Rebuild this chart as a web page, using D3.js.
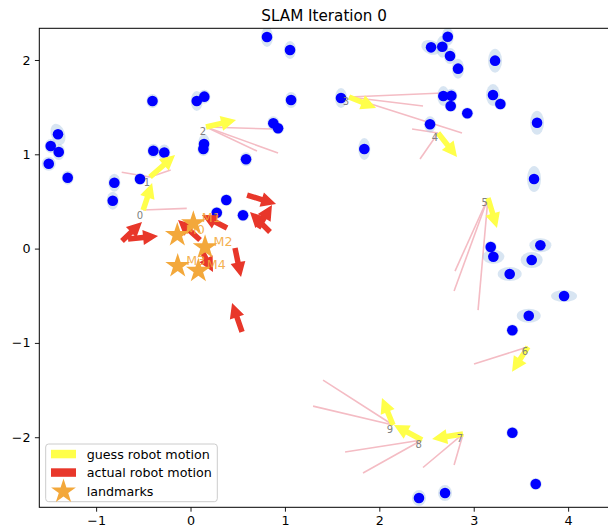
<!DOCTYPE html>
<html>
<head>
<meta charset="utf-8">
<script src="https://cdn.jsdelivr.net/npm/d3@7"></script>
<style>
  html, body { margin: 0; padding: 0; background: #fff; }
  svg { display: block; font-family: "DejaVu Sans", sans-serif; }
</style>
</head>
<body>
<svg id="chart" width="608" height="530"></svg>
<script>
// Estimated map features: [x, y, semi-axis x, semi-axis y, tilt in degrees]
const mapPoints = [
  [0.810, 2.244, 0.064, 0.106, 0], [1.054, 2.106, 0.064, 0.095, 0],
  [2.725, 2.247, 0.064, 0.095, 0], [2.548, 2.134, 0.106, 0.074, -20],
  [2.667, 2.141, 0.064, 0.117, 0], [2.749, 2.042, 0.064, 0.085, 0],
  [2.834, 1.908, 0.064, 0.106, 0], [3.226, 1.993, 0.074, 0.127, 0],
  [2.678, 1.618, 0.064, 0.106, 0], [2.763, 1.621, 0.064, 0.074, 0],
  [2.756, 1.512, 0.064, 0.064, 0], [2.932, 1.435, 0.064, 0.064, 0],
  [3.204, 1.629, 0.074, 0.117, 0], [3.282, 1.533, 0.064, 0.064, 0],
  [2.537, 1.318, 0.064, 0.085, 0], [3.671, 1.335, 0.074, 0.127, 0],
  [1.594, 1.597, 0.064, 0.106, 0], [1.841, 1.056, 0.064, 0.117, 0],
  [1.065, 1.576, 0.064, 0.085, 0], [0.877, 1.329, 0.064, 0.074, 0],
  [0.927, 1.276, 0.064, 0.064, 0], [0.066, 1.565, 0.064, 0.106, 0],
  [0.146, 1.611, 0.064, 0.074, 0], [-0.403, 1.565, 0.064, 0.074, 0],
  [0.143, 1.109, 0.064, 0.106, 0], [0.136, 1.056, 0.064, 0.074, 0],
  [0.588, 0.947, 0.064, 0.074, 0], [-0.394, 1.038, 0.064, 0.074, 0],
  [-0.278, 1.019, 0.064, 0.085, 0], [-1.404, 1.212, 0.074, 0.117, 20],
  [-1.481, 1.088, 0.064, 0.074, 0], [-1.396, 1.024, 0.064, 0.085, 0],
  [-1.502, 0.900, 0.074, 0.074, 0], [-1.301, 0.752, 0.064, 0.074, 0],
  [-0.807, 0.699, 0.064, 0.095, 0], [-0.824, 0.508, 0.064, 0.095, 0],
  [-0.535, 0.738, 0.064, 0.064, 0], [0.379, 0.515, 0.064, 0.064, 0],
  [0.278, 0.381, 0.064, 0.064, 0], [0.556, 0.353, 0.064, 0.064, 0],
  [3.639, 0.738, 0.074, 0.138, 0], [3.180, 0.017, 0.064, 0.064, 0],
  [3.208, -0.086, 0.117, 0.074, 0], [3.706, 0.035, 0.117, 0.074, 0],
  [3.614, -0.121, 0.117, 0.085, 0], [3.381, -0.269, 0.127, 0.074, 0],
  [3.957, -0.503, 0.138, 0.064, 0], [3.583, -0.712, 0.127, 0.074, 0],
  [3.409, -0.866, 0.064, 0.064, 0], [3.409, -1.952, 0.064, 0.064, 0],
  [2.420, -2.645, 0.074, 0.085, 0], [2.696, -2.592, 0.074, 0.085, 0],
  [3.657, -2.496, 0.064, 0.064, 0]
];

// Robot poses along the trajectory
const poseX = [-0.502, -0.429, 0.164, 1.679, 2.622, 3.151, 3.575, 2.887, 2.452, 2.145];
const poseY = [0.409, 0.759, 1.290, 1.608, 1.226, 0.537, -1.042, -1.965, -2.029, -1.870];

// Guessed motion at each pose (dx, dy)
const guessDX = [0.095, 0.265, 0.318, 0.286, 0.201, 0.095, -0.169, -0.328, -0.297, -0.117];
const guessDY = [0.286, 0.233, 0.074, -0.117, -0.255, -0.318, -0.265, -0.053, 0.159, 0.286];

// Actual motion: start point and (dx, dy)
const actualX = [-0.726, -0.662, 0.101, 0.387, 0.842, 0.599, 0.715, 0.132, 0.471, 0.546];
const actualY = [0.081, 0.102, 0.091, 0.218, 0.176, 0.568, 0.218, -0.047, 0.006, -0.884];
const actualDX = [0.212, 0.318, -0.233, -0.265, -0.212, 0.307, 0.148, 0.106, 0.064, -0.106];
const actualDY = [0.201, 0.032, 0.212, 0.138, 0.212, -0.095, 0.244, -0.201, -0.308, 0.308];

// Measurements: pose index and observed point
const measPose = [0, 1, 1, 2, 2, 2, 3, 3, 3, 4, 4, 5, 5, 5, 6, 7, 7, 8, 8, 9, 9];
const measX = [-0.040, -0.729, -0.210, 0.874, 0.704, 0.927, 2.674, 2.463, 2.876, 2.347, 2.431,
               2.802, 2.792, 3.046, 3.003, 2.463, 2.792, 1.637, 1.827, 1.404, 1.298];
const measY = [0.427, 0.809, 0.834, 1.268, 1.034, 1.014, 1.650, 1.512, 1.226, 1.268, 0.950,
               -0.238, -0.450, -0.653, -1.224, -2.321, -2.294, -2.157, -2.379, -1.394, -1.670];

// Landmarks
const landmarkNames = ["M0", "M1", "M2", "M3", "M4"];
const landmarkX = [-0.140, 0.030, 0.154, -0.136, 0.083];
const landmarkY = [0.144, 0.268, 0.014, -0.185, -0.234];

const xTicks = [-1, 0, 1, 2, 3, 4];
const yTicks = [-2, -1, 0, 1, 2];
const legendLabels = ["guess robot motion", "actual robot motion", "landmarks"];

const COLORS = {
  guess: "#ffff4a",
  actual: "#e8372a",
  landmark: "#f3a83b",
  meas: "#f4bcc4",
  point: "#0000ff",
  ellipse: "#a9c6e3"
};

const svg = d3.select("#chart");
const plot = { left: 39.3, right: 609, top: 28.3, bottom: 507.3 };

const x = d3.scaleLinear().domain([-1.602, 4.433]).range([plot.left, plot.right]);
const y = d3.scaleLinear().domain([-2.743, 2.336]).range([plot.bottom, plot.top]);

svg.append("defs").append("clipPath").attr("id", "plotClip")
  .append("rect")
  .attr("x", plot.left).attr("y", plot.top)
  .attr("width", plot.right - plot.left).attr("height", plot.bottom - plot.top);

const g = svg.append("g").attr("clip-path", "url(#plotClip)");

// Measurement rays
g.append("g").selectAll("line").data(measPose).join("line")
  .attr("x1", d => x(poseX[d])).attr("y1", d => y(poseY[d]))
  .attr("x2", (d, i) => x(measX[i])).attr("y2", (d, i) => y(measY[i]))
  .attr("stroke", COLORS.meas).attr("stroke-width", 1.6);

// Uncertainty ellipses
g.append("g").selectAll("ellipse").data(mapPoints).join("ellipse")
  .attr("cx", d => x(d[0])).attr("cy", d => y(d[1]))
  .attr("rx", d => x(d[2]) - x(0)).attr("ry", d => y(0) - y(d[3]))
  .attr("transform", d => `rotate(${-d[4]} ${x(d[0])} ${y(d[1])})`)
  .attr("fill", COLORS.ellipse).attr("fill-opacity", 0.45);

// Map points
g.append("g").selectAll("circle").data(mapPoints).join("circle")
  .attr("cx", d => x(d[0])).attr("cy", d => y(d[1])).attr("r", 5.3)
  .attr("fill", COLORS.point);

// Arrow polygon in pixel space (matplotlib-style full arrow)
function arrowPath(x0, y0, x1, y1, w, hw, hl) {
  const dx = x1 - x0, dy = y1 - y0;
  const L = Math.hypot(dx, dy);
  const ux = dx / L, uy = dy / L, nx = -uy, ny = ux;
  const bl = Math.max(L - hl, 0);
  const pts = [
    [x0 + nx * w / 2, y0 + ny * w / 2],
    [x0 + ux * bl + nx * w / 2, y0 + uy * bl + ny * w / 2],
    [x0 + ux * bl + nx * hw / 2, y0 + uy * bl + ny * hw / 2],
    [x1, y1],
    [x0 + ux * bl - nx * hw / 2, y0 + uy * bl - ny * hw / 2],
    [x0 + ux * bl - nx * w / 2, y0 + uy * bl - ny * w / 2],
    [x0 - nx * w / 2, y0 - ny * w / 2]
  ];
  return "M" + pts.map(p => p[0].toFixed(2) + "," + p[1].toFixed(2)).join("L") + "Z";
}

// Actual motion arrows
g.append("g").selectAll("path").data(actualX).join("path")
  .attr("d", (d, i) => arrowPath(x(actualX[i]), y(actualY[i]),
    x(actualX[i] + actualDX[i]), y(actualY[i] + actualDY[i]), 5.5, 15, 15))
  .attr("fill", COLORS.actual);

// Guessed motion arrows
g.append("g").selectAll("path").data(poseX).join("path")
  .attr("d", (d, i) => arrowPath(x(poseX[i]), y(poseY[i]),
    x(poseX[i] + guessDX[i]), y(poseY[i] + guessDY[i]), 5.5, 15, 15))
  .attr("fill", COLORS.guess);

// Landmark stars
const star = d3.symbol().type(d3.symbolStar).size(190);
g.append("g").selectAll("path").data(landmarkX).join("path")
  .attr("d", star)
  .attr("transform", (d, i) => `translate(${x(landmarkX[i])},${y(landmarkY[i])})`)
  .attr("fill", COLORS.landmark);

g.append("g").selectAll("text").data(landmarkNames).join("text")
  .attr("x", (d, i) => x(landmarkX[i]) + 8.5)
  .attr("y", (d, i) => y(landmarkY[i]) - 1.5)
  .attr("font-size", 12.7).attr("fill", COLORS.landmark).attr("fill-opacity", 0.9)
  .text(d => d);

// Pose indices
g.append("g").selectAll("text").data(poseX).join("text")
  .attr("x", (d, i) => x(poseX[i]))
  .attr("y", (d, i) => y(poseY[i]) + 8.5)
  .attr("text-anchor", "end")
  .attr("font-size", 10).attr("fill", "#808080")
  .text((d, i) => i);

// Axes
const fmt = d => d < 0 ? "\u2212" + Math.abs(d) : String(d);
const xAxis = svg.append("g").attr("transform", `translate(0,${plot.bottom})`)
  .call(d3.axisBottom(x).tickValues(xTicks).tickFormat(fmt).tickSize(4.4).tickPadding(4.4));
const yAxis = svg.append("g").attr("transform", `translate(${plot.left},0)`)
  .call(d3.axisLeft(y).tickValues(yTicks).tickFormat(fmt).tickSize(4.4).tickPadding(4.4));
[xAxis, yAxis].forEach(a => {
  a.select(".domain").remove();
  a.selectAll("text").attr("font-size", 12.7).attr("font-family", "DejaVu Sans").attr("fill", "#000");
  a.selectAll("line").attr("stroke", "#000").attr("stroke-width", 0.9);
});

// Frame
svg.append("rect")
  .attr("x", plot.left).attr("y", plot.top)
  .attr("width", plot.right - plot.left).attr("height", plot.bottom - plot.top)
  .attr("fill", "none").attr("stroke", "#000").attr("stroke-width", 1);

// Title
svg.append("text")
  .attr("x", (plot.left + plot.right) / 2).attr("y", 21)
  .attr("text-anchor", "middle").attr("font-size", 15.2).attr("fill", "#000")
  .text("SLAM Iteration 0");

// Legend
const lg = svg.append("g");
lg.append("rect")
  .attr("x", 45.7).attr("y", 444).attr("width", 171.6).attr("height", 57.7)
  .attr("rx", 3).attr("fill", "#fff").attr("fill-opacity", 0.8)
  .attr("stroke", "#cccccc").attr("stroke-width", 1);
const rowY = [454, 472.5, 491];
lg.append("rect").attr("x", 51).attr("y", rowY[0] - 4.2).attr("width", 25).attr("height", 8.5)
  .attr("fill", COLORS.guess);
lg.append("rect").attr("x", 51).attr("y", rowY[1] - 4.2).attr("width", 25).attr("height", 8.5)
  .attr("fill", COLORS.actual);
lg.append("path").attr("d", star).attr("transform", `translate(63.5,${rowY[2] + 0.5})`)
  .attr("fill", COLORS.landmark);
lg.selectAll("text.lbl").data(legendLabels).join("text")
  .attr("class", "lbl")
  .attr("x", 86.7).attr("y", (d, i) => rowY[i])
  .attr("dy", "0.36em")
  .attr("font-size", 12.7).attr("fill", "#000")
  .text(d => d);
</script>
</body>
</html>
